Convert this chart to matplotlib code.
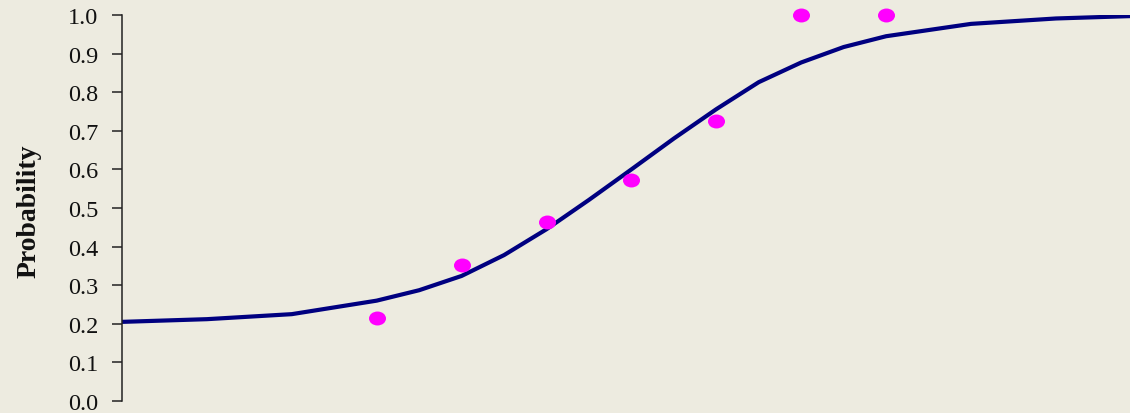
import matplotlib
matplotlib.use("Agg")
import matplotlib.pyplot as plt
from matplotlib.path import Path
from matplotlib.transforms import Affine2D

# Observed proportions
obs_x = [3, 4, 5, 6, 7, 8, 9]
obs_p = [0.215, 0.352, 0.464, 0.573, 0.725, 1.0, 1.0]

# Fitted probability curve
fit_x = [0, 1, 2, 3, 3.5, 4, 4.5, 5, 5.5, 6, 6.5, 7, 7.5, 8, 8.5, 9, 10, 11, 12]
fit_p = [0.205, 0.212, 0.225, 0.260, 0.287, 0.324, 0.378, 0.445, 0.521,
         0.600, 0.680, 0.756, 0.826, 0.877, 0.917, 0.945, 0.977, 0.991, 0.998]

y_ticks = [0.0, 0.1, 0.2, 0.3, 0.4, 0.5, 0.6, 0.7, 0.8, 0.9, 1.0]

bg = "#EDEBE0"
plt.rcParams["font.family"] = ["Liberation Serif", "DejaVu Serif"]

fig = plt.figure(figsize=(11.3, 4.14), dpi=100, facecolor=bg)
ax = fig.add_axes([122 / 1130, 12 / 414, 1008 / 1130, 386 / 414])
ax.set_facecolor(bg)

ax.plot(fit_x, fit_p, color="#000080", lw=3.0, solid_joinstyle="round", zorder=2)

oval = Path.unit_circle().transformed(Affine2D().scale(1.22, 1.0))
ax.scatter(obs_x, obs_p, marker=oval, s=150, color="#FF00FF", linewidths=0,
           clip_on=False, zorder=3)

ax.set_xlim(0, 1008 / 84.9)
ax.set_ylim(0, 1.0)
ax.set_yticks(y_ticks)
ax.set_yticklabels([f"{t:.1f}" for t in y_ticks])
ax.set_xticks([])

for side in ("top", "right", "bottom"):
    ax.spines[side].set_visible(False)
ax.spines["left"].set_color("#222222")
ax.spines["left"].set_linewidth(1.1)
ax.tick_params(axis="y", direction="out", length=7, width=1.1, color="#222222",
               pad=10, labelsize=17.5, labelcolor="#111111")

ax.set_ylabel("Probability", fontsize=20, fontweight="bold", color="#111111")
ax.yaxis.set_label_coords(-93 / 1008, 0.495)
ax.yaxis.label.set_verticalalignment("center")

fig.savefig("out.png", dpi=100, facecolor=bg)
